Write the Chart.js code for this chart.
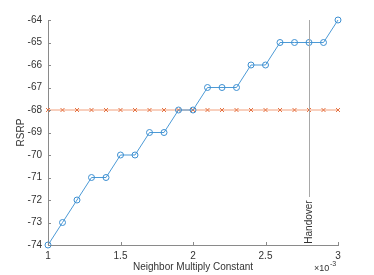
<!DOCTYPE html>
<html>
<head>
<meta charset="utf-8">
<script src="https://cdn.jsdelivr.net/npm/chart.js@4/dist/chart.umd.min.js"></script>
<style>
  html, body { margin: 0; padding: 0; background: #fff; }
  #wrap { width: 374px; height: 275px; }
</style>
</head>
<body>
<div id="wrap"><canvas id="chart" width="374" height="275"></canvas></div>
<script>
// ── Data ──────────────────────────────────────────────────
const multiplyConst = [0.0010, 0.0011, 0.0012, 0.0013, 0.0014, 0.0015, 0.0016, 0.0017, 0.0018, 0.0019, 0.0020,
  0.0021, 0.0022, 0.0023, 0.0024, 0.0025, 0.0026, 0.0027, 0.0028, 0.0029, 0.0030];
const neighborRsrp = [-74, -73, -72, -71, -71, -70, -70, -69, -69, -68, -68,
  -67, -67, -67, -66, -66, -65, -65, -65, -65, -64];
const servingRsrp = [-68, -68, -68, -68, -68, -68, -68, -68, -68, -68, -68,
  -68, -68, -68, -68, -68, -68, -68, -68, -68, -68];
const xTicks = [0.0010, 0.0015, 0.0020, 0.0025, 0.0030];
const xTickLabels = ["1", "1.5", "2", "2.5", "3"];
const yTicks = [-74, -73, -72, -71, -70, -69, -68, -67, -66, -65, -64];
const handoverX = 0.0028;
const handoverLabel = "Handover";

const AXIS = "#8a8a8a";
const TEXT = "#333333";
const FONT = "Liberation Sans, Arial, sans-serif";

const toPoints = (ys) => ys.map((y, i) => ({ x: multiplyConst[i], y }));

// ── Extras: inward ticks, handover marker, exponent ───────
const extras = {
  id: "extras",
  afterDatasetsDraw(chart) {
    const { ctx, chartArea, scales: { x, y } } = chart;
    ctx.save();
    ctx.strokeStyle = AXIS;
    ctx.lineWidth = 1;
    ctx.beginPath();
    xTicks.forEach((v) => {
      const px = Math.round(x.getPixelForValue(v)) + 0.5;
      ctx.moveTo(px, chartArea.bottom);
      ctx.lineTo(px, chartArea.bottom - 3);
    });
    yTicks.forEach((v) => {
      const py = Math.round(y.getPixelForValue(v)) + 0.5;
      ctx.moveTo(chartArea.left, py);
      ctx.lineTo(chartArea.left + 3, py);
    });
    ctx.stroke();

    // handover line + rotated label
    const hx = Math.round(x.getPixelForValue(handoverX)) + 0.5;
    ctx.strokeStyle = "#a8a8a8";
    ctx.beginPath();
    ctx.moveTo(hx, chartArea.top);
    ctx.lineTo(hx, chartArea.bottom - 48);
    ctx.stroke();
    ctx.translate(hx, chartArea.bottom - 23);
    ctx.rotate(-Math.PI / 2);
    ctx.fillStyle = TEXT;
    ctx.font = `10px ${FONT}`;
    ctx.textAlign = "center";
    ctx.textBaseline = "middle";
    ctx.fillText(handoverLabel, 0, 0);
    ctx.restore();

    // ×10^-3 exponent
    ctx.save();
    ctx.fillStyle = TEXT;
    ctx.font = `9px ${FONT}`;
    ctx.textBaseline = "alphabetic";
    ctx.fillText("\u00d710", chartArea.right - 24, chartArea.bottom + 26);
    ctx.font = `7px ${FONT}`;
    ctx.fillText("-3", chartArea.right - 8, chartArea.bottom + 21);
    ctx.restore();
  }
};

new Chart(document.getElementById("chart"), {
  type: "line",
  data: {
    datasets: [
      {
        label: "Neighbor",
        data: toPoints(neighborRsrp),
        borderColor: "#4c9ad6",
        backgroundColor: "rgba(0,0,0,0)",
        borderWidth: 1,
        pointStyle: "circle",
        pointRadius: 3,
        pointBorderWidth: 1,
        pointBorderColor: "#3d8fd1",
        pointBackgroundColor: "rgba(0,0,0,0)",
        tension: 0,
        clip: false
      },
      {
        label: "Serving",
        data: toPoints(servingRsrp),
        borderColor: "#f2a07c",
        backgroundColor: "rgba(0,0,0,0)",
        borderWidth: 1,
        pointStyle: "crossRot",
        pointRadius: 2.8,
        pointBorderWidth: 1,
        pointBorderColor: "#e46f3e",
        tension: 0,
        clip: false
      }
    ]
  },
  options: {
    responsive: false,
    animation: false,
    layout: { padding: { top: 20, right: 36, bottom: 0, left: 0 } },
    plugins: { legend: { display: false }, tooltip: { enabled: false } },
    scales: {
      x: {
        type: "linear",
        min: 0.001,
        max: 0.003,
        afterBuildTicks: (s) => { s.ticks = xTicks.map((v) => ({ value: v })); },
        afterFit: (s) => { s.height = 30; },
        grid: { display: false, drawTicks: false },
        border: { display: true, color: AXIS, width: 1 },
        ticks: {
          color: TEXT,
          padding: 5,
          font: { family: FONT, size: 10 },
          callback: (v) => xTickLabels[xTicks.findIndex((t) => Math.abs(t - v) < 1e-9)]
        },
        title: {
          display: true,
          text: "Neighbor Multiply Constant",
          color: TEXT,
          font: { family: FONT, size: 10 },
          padding: { top: 0, bottom: 2 }
        }
      },
      y: {
        min: -74,
        max: -64,
        afterBuildTicks: (s) => { s.ticks = yTicks.map((v) => ({ value: v })); },
        afterFit: (s) => { s.width = 48; },
        grid: { display: false, drawTicks: false },
        border: { display: true, color: AXIS, width: 1 },
        ticks: {
          color: TEXT,
          padding: 6,
          font: { family: FONT, size: 10 }
        },
        title: {
          display: true,
          text: "RSRP",
          color: TEXT,
          font: { family: FONT, size: 10 },
          padding: { top: 15, bottom: 0 }
        }
      }
    }
  },
  plugins: [extras]
});
</script>
</body>
</html>
